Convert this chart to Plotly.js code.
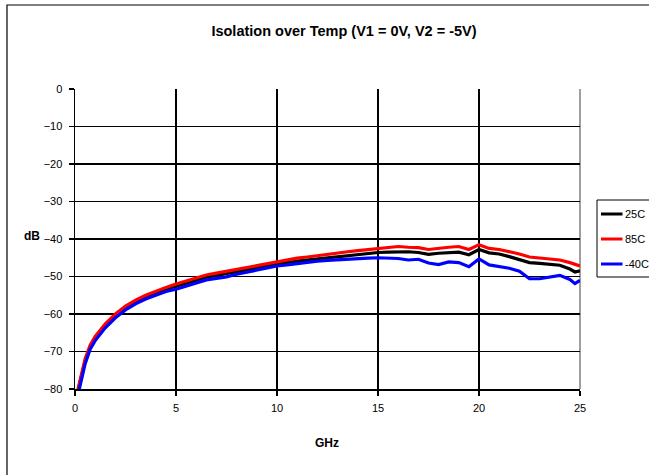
<!DOCTYPE html>
<html>
<head>
<meta charset="utf-8">
<script src="https://cdn.plot.ly/plotly-3.0.1.min.js"></script>
<style>
  html, body { margin: 0; padding: 0; background: #fff; }
  #chart { width: 649px; height: 475px; }
</style>
</head>
<body>
<div id="chart"></div>
<script>
// Frequency (GHz)
const freq = [0.15,0.3,0.5,0.75,1,1.5,2,2.5,3,3.5,4,4.5,5,5.5,6,6.5,7,7.5,8,8.5,9,9.5,10,10.5,11,11.5,12,12.5,13,13.5,14,14.5,15,15.5,16,16.5,17,17.5,18,18.5,19,19.5,20,20.5,21,21.5,22,22.5,23,23.5,24,24.5,24.75,25];

// Isolation (dB) per temperature
const iso25C = [-80.3,-77,-72.6,-68.8,-66.5,-63.1,-60.5,-58.4,-56.8,-55.5,-54.4,-53.4,-52.6,-51.8,-51,-50.2,-49.7,-49.2,-48.6,-48.1,-47.6,-47.1,-46.7,-46.3,-45.9,-45.6,-45.3,-45.0,-44.8,-44.5,-44.2,-43.9,-43.6,-43.5,-43.4,-43.4,-43.6,-44.1,-43.8,-43.6,-43.5,-44.2,-42.8,-43.7,-44.0,-44.7,-45.5,-46.3,-46.5,-46.7,-47.0,-48.0,-48.8,-48.5];
const iso85C = [-80,-76.5,-72,-68.3,-66,-62.6,-60,-57.9,-56.3,-55,-53.9,-52.9,-52,-51.2,-50.4,-49.6,-49.1,-48.6,-48,-47.4,-46.9,-46.4,-46,-45.6,-45.1,-44.8,-44.4,-44.0,-43.8,-43.4,-43.1,-42.8,-42.5,-42.3,-42.0,-42.2,-42.3,-42.8,-42.4,-42.2,-42.0,-42.8,-41.5,-42.5,-42.8,-43.3,-44.0,-44.8,-45.0,-45.3,-45.6,-46.3,-46.8,-47.2];
const isoM40C = [-81.5,-77.8,-73.3,-69.4,-67.1,-63.7,-61,-58.9,-57.3,-56,-54.9,-54,-53.4,-52.6,-51.7,-50.9,-50.5,-50.1,-49.4,-48.8,-48.2,-47.6,-47.2,-46.9,-46.5,-46.2,-45.9,-45.7,-45.5,-45.4,-45.3,-45.1,-45.0,-45.1,-45.2,-45.6,-45.4,-46.4,-46.8,-46.1,-46.3,-47.4,-45.3,-46.9,-47.3,-47.8,-48.6,-50.6,-50.6,-50.2,-49.7,-50.8,-51.9,-51.0];

const seriesNames = ['25C', '85C', '-40C'];
const seriesColors = ['#000000', '#ff0000', '#0000ff'];
const seriesValues = [iso25C, iso85C, isoM40C];

const titleText = 'Isolation over Temp (V1 = 0V, V2 = -5V)';
const xTitle = 'GHz';
const yTitle = 'dB';

const FONT = 'Liberation Sans, Arial, sans-serif';

const traces = seriesNames.map((name, i) => ({
  type: 'scatter',
  mode: 'lines',
  name: name,
  x: freq,
  y: seriesValues[i],
  line: { color: seriesColors[i], width: 3.2 },
  showlegend: false
}));

// Plot area in pixels: left 75, right 580, top 89, bottom 389
const W = 649, H = 475, L = 75, R = 580, T = 89, B = 389;
const px = (x) => (x - L) / (R - L);
const py = (y) => (B - y) / (B - T);

const shapes = [
  { type: 'rect', xref: 'paper', yref: 'paper', x0: px(7), x1: px(700), y0: py(520), y1: py(5),
    line: { color: '#000', width: 1.2 }, fillcolor: 'rgba(0,0,0,0)', layer: 'below' },
  { type: 'line', xref: 'paper', yref: 'paper', x0: 1, x1: 1, y0: 0, y1: 1,
    line: { color: '#808080', width: 1.5 }, layer: 'between' },
  { type: 'rect', xref: 'paper', yref: 'paper', x0: px(597), x1: px(700), y0: py(277), y1: py(200),
    line: { color: '#000', width: 1 }, fillcolor: '#fff', layer: 'above' }
];
const legendY = [214, 239, 264];
const annotations = [
  { text: '<b>' + yTitle + '</b>', xref: 'paper', yref: 'paper', x: px(32), y: py(236),
    xanchor: 'center', yanchor: 'middle', showarrow: false, font: { family: FONT, size: 12, color: '#000' } },
  { text: '<b>' + xTitle + '</b>', xref: 'paper', yref: 'paper', x: px(327), y: py(443),
    xanchor: 'center', yanchor: 'middle', showarrow: false, font: { family: FONT, size: 12, color: '#000' } }
];
seriesNames.forEach((name, i) => {
  shapes.push({ type: 'line', xref: 'paper', yref: 'paper', x0: px(601), x1: px(622.5),
    y0: py(legendY[i]), y1: py(legendY[i]), line: { color: seriesColors[i], width: 3 }, layer: 'above' });
  annotations.push({ text: name, xref: 'paper', yref: 'paper', x: px(622.5), y: py(legendY[i]),
    xanchor: 'left', yanchor: 'middle', showarrow: false, font: { family: FONT, size: 11, color: '#000' } });
});

const axisCommon = {
  showgrid: true, gridcolor: '#000', gridwidth: 1.2,
  showline: true, linecolor: '#000', linewidth: 1.5,
  ticks: 'outside', ticklen: 5, tickcolor: '#000', tickwidth: 1.5,
  zeroline: false,
  tickfont: { family: FONT, size: 11, color: '#000' }
};

const layout = {
  width: W, height: H,
  margin: { l: L, r: W - R, t: T, b: H - B, pad: 0 },
  paper_bgcolor: '#fff', plot_bgcolor: '#fff',
  showlegend: false,
  title: { text: '<b>' + titleText + '</b>', xref: 'container', yref: 'container',
    x: 344 / W, y: 1 - 31 / H, xanchor: 'center', yanchor: 'middle',
    font: { family: FONT, size: 14.5, color: '#000' } },
  xaxis: Object.assign({}, axisCommon, { range: [0, 25], tick0: 0, dtick: 5, ticklabelstandoff: 3 }),
  yaxis: Object.assign({}, axisCommon, { range: [-80, 0], tick0: 0, dtick: 10, ticklabelstandoff: 4 }),
  shapes: shapes,
  annotations: annotations
};

Plotly.newPlot('chart', traces, layout, { displayModeBar: false, staticPlot: true });
</script>
</body>
</html>
